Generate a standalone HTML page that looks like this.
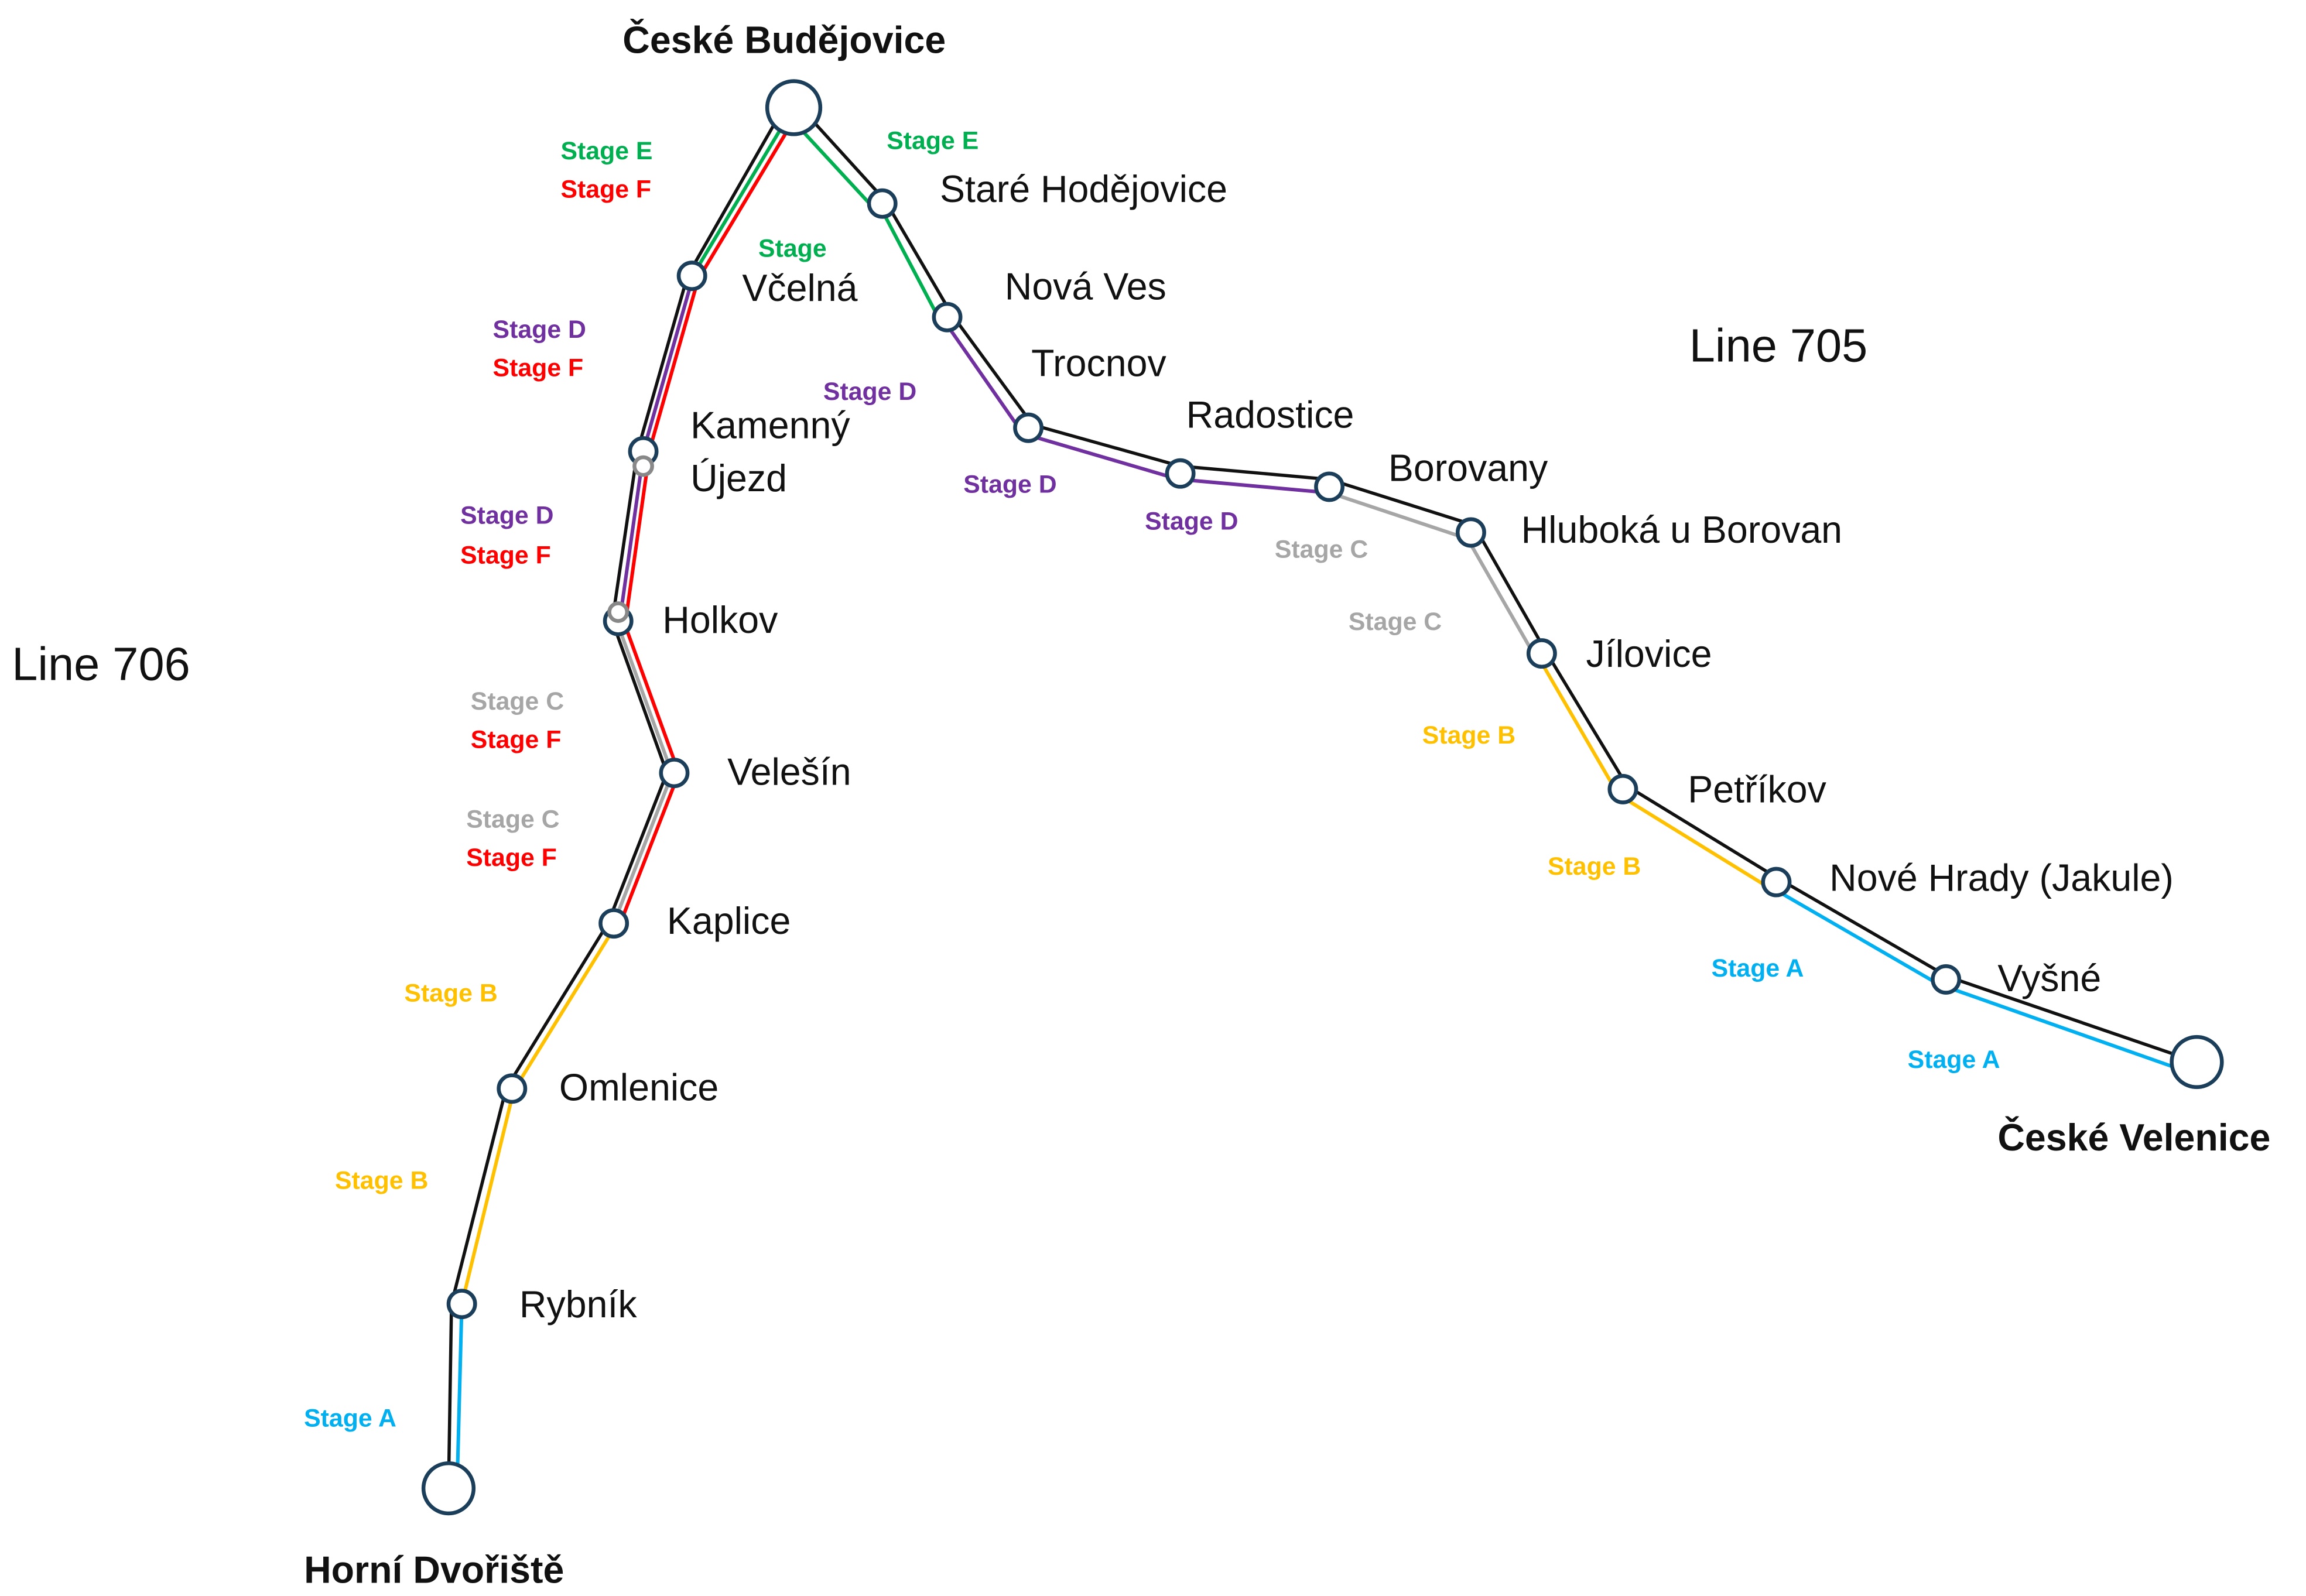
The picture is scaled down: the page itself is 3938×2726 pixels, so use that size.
<!DOCTYPE html>
<html><head><meta charset="utf-8"><style>
html,body{margin:0;padding:0;background:#fff;}
svg{display:block;}
text{font-family:"Liberation Sans",sans-serif;}
.n{font-size:25.6px;fill:#111;}
.b{font-size:25.6px;font-weight:bold;fill:#111;}
.s{font-size:17px;font-weight:bold;}
.g{fill:#00b050}.r{fill:#ff0000}.p{fill:#7030a0}.c{fill:#a6a6a6}.y{fill:#ffc000}.a{fill:#00b0f0}
.bl{stroke:#111;stroke-width:2.2;fill:none}
circle{fill:#fff;stroke:#1b3f5a;stroke-width:2.6}
</style></head><body>
<svg width="3938" height="2726" viewBox="0 0 1563 1082" xmlns="http://www.w3.org/2000/svg">
<polyline class="bl" points="304,1009 306,884 343,738 412,626 452,524 415,421 432,306 466,187 530,75"/>
<g fill="none" stroke-width="2.4">
<line x1="310" y1="1000" x2="313" y2="884" stroke="#00b0f0"/>
<line x1="313" y1="884" x2="348" y2="740" stroke="#ffc000"/>
<line x1="349" y1="738" x2="417" y2="628" stroke="#ffc000"/>
<line x1="416" y1="626" x2="455" y2="526" stroke="#a6a6a6"/>
<line x1="420" y1="627" x2="459" y2="527" stroke="#ff0000"/>
<line x1="455" y1="523" x2="419" y2="424" stroke="#a6a6a6"/>
<line x1="459" y1="521" x2="423" y2="422" stroke="#ff0000"/>
<line x1="420" y1="421" x2="436" y2="308" stroke="#7030a0"/>
<line x1="424" y1="421" x2="440" y2="308" stroke="#ff0000"/>
<line x1="436" y1="306" x2="469" y2="190" stroke="#7030a0"/>
<line x1="440" y1="306" x2="473" y2="190" stroke="#ff0000"/>
<line x1="470" y1="186" x2="530" y2="86" stroke="#00b050"/>
<line x1="474" y1="188" x2="534" y2="88" stroke="#ff0000"/>
</g>
<polyline class="bl" points="550,81 600,136 645,213 700,288 800,316 901,325 999,356 1048,442 1103,533 1206,596 1320,662 1489,720"/>
<g fill="none" stroke-width="2.4">
<line x1="545" y1="90" x2="594" y2="143" stroke="#00b050"/>
<line x1="597" y1="141" x2="638" y2="219" stroke="#00b050"/>
<line x1="641" y1="219" x2="694" y2="295" stroke="#7030a0"/>
<line x1="697" y1="295" x2="799" y2="325" stroke="#7030a0"/>
<line x1="800" y1="325" x2="900" y2="334" stroke="#7030a0"/>
<line x1="901" y1="334" x2="994" y2="365" stroke="#a6a6a6"/>
<line x1="994" y1="364" x2="1041" y2="446" stroke="#a6a6a6"/>
<line x1="1043" y1="446" x2="1097" y2="539" stroke="#ffc000"/>
<line x1="1099" y1="540" x2="1201" y2="603" stroke="#ffc000"/>
<line x1="1203" y1="603" x2="1317" y2="669" stroke="#00b0f0"/>
<line x1="1319" y1="669" x2="1478" y2="725" stroke="#00b0f0"/>
</g>
<circle cx="538" cy="73" r="18"/>
<circle cx="469" cy="187" r="9"/>
<circle cx="436" cy="306" r="9"/>
<circle cx="436" cy="316" r="6" style="stroke:#888"/>
<circle cx="419" cy="421" r="9"/>
<circle cx="419" cy="415" r="6" style="stroke:#888"/>
<circle cx="457" cy="524" r="9"/>
<circle cx="416" cy="626" r="9"/>
<circle cx="347" cy="738" r="9"/>
<circle cx="313" cy="884" r="9"/>
<circle cx="304" cy="1009" r="17"/>
<circle cx="598" cy="138" r="9"/>
<circle cx="642" cy="215" r="9"/>
<circle cx="697" cy="290" r="9"/>
<circle cx="800" cy="321" r="9"/>
<circle cx="901" cy="330" r="9"/>
<circle cx="997" cy="361" r="9"/>
<circle cx="1045" cy="443" r="9"/>
<circle cx="1100" cy="535" r="9"/>
<circle cx="1204" cy="598" r="9"/>
<circle cx="1319" cy="664" r="9"/>
<circle cx="1489" cy="720" r="17"/>
<text class="b" x="422" y="36">České Budějovice</text>
<text class="n" x="637" y="137">Staré Hodějovice</text>
<text class="n" x="503" y="204">Včelná</text>
<text class="n" x="681" y="203">Nová Ves</text>
<text class="n" x="699" y="255">Trocnov</text>
<text class="n" x="804" y="290">Radostice</text>
<text class="n" x="941" y="326">Borovany</text>
<text class="n" x="1031" y="368">Hluboká u Borovan</text>
<text class="n" x="1075" y="452">Jílovice</text>
<text class="n" x="1144" y="544">Petříkov</text>
<text class="n" x="1240" y="604">Nové Hrady (Jakule)</text>
<text class="n" x="1354" y="672">Vyšné</text>
<text class="b" x="1354" y="780">České Velenice</text>
<text class="n" x="468" y="297">Kamenný</text>
<text class="n" x="468" y="333">Újezd</text>
<text class="n" x="449" y="429">Holkov</text>
<text class="n" x="493" y="532">Velešín</text>
<text class="n" x="452" y="633">Kaplice</text>
<text class="n" x="379" y="746">Omlenice</text>
<text class="n" x="352" y="893">Rybník</text>
<text class="b" x="206" y="1073">Horní Dvořiště</text>
<text class="n" x="1145" y="245" style="font-size:31.5px">Line 705</text>
<text class="n" x="8" y="461" style="font-size:31.5px">Line 706</text>
<text class="s g" x="380" y="108">Stage E</text>
<text class="s r" x="380" y="134">Stage F</text>
<text class="s g" x="601" y="101">Stage E</text>
<text class="s g" x="514" y="174">Stage</text>
<text class="s p" x="334" y="229">Stage D</text>
<text class="s r" x="334" y="255">Stage F</text>
<text class="s p" x="558" y="271">Stage D</text>
<text class="s p" x="653" y="334">Stage D</text>
<text class="s p" x="776" y="359">Stage D</text>
<text class="s c" x="864" y="378">Stage C</text>
<text class="s c" x="914" y="427">Stage C</text>
<text class="s p" x="312" y="355">Stage D</text>
<text class="s r" x="312" y="382">Stage F</text>
<text class="s c" x="319" y="481">Stage C</text>
<text class="s r" x="319" y="507">Stage F</text>
<text class="s c" x="316" y="561">Stage C</text>
<text class="s r" x="316" y="587">Stage F</text>
<text class="s y" x="274" y="679">Stage B</text>
<text class="s y" x="227" y="806">Stage B</text>
<text class="s a" x="206" y="967">Stage A</text>
<text class="s y" x="964" y="504">Stage B</text>
<text class="s y" x="1049" y="593">Stage B</text>
<text class="s a" x="1160" y="662">Stage A</text>
<text class="s a" x="1293" y="724">Stage A</text>
</svg>
</body></html>
